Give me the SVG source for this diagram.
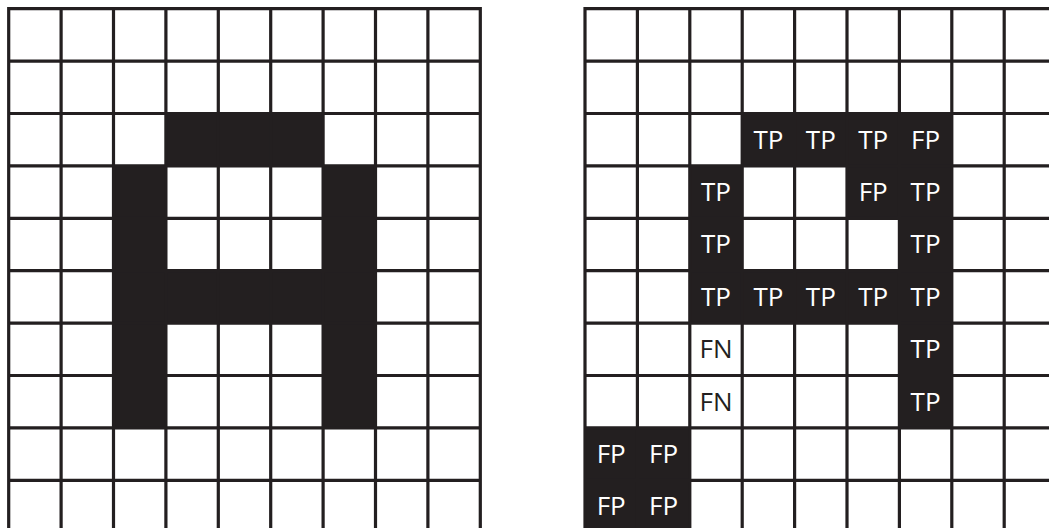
<svg xmlns="http://www.w3.org/2000/svg" width="1049" height="528" viewBox="0 0 1049 528">
<style>
.fill{fill:#231f20}
.grid{stroke:#231f20;stroke-width:3.2;fill:none;stroke-linecap:square}
.lbl{font-family:"Open Sans","Liberation Sans",sans-serif;font-size:26px;text-anchor:middle}
.on{fill:#ffffff}
.off{fill:#231f20}
</style>
<rect width="1049" height="528" fill="#ffffff"/>
<g id="left-grid">
<g id="left-fills">
<rect class="fill" x="165.9" y="113.5" width="157.2" height="52.4"/>
<rect class="fill" x="113.5" y="165.9" width="52.4" height="262"/>
<rect class="fill" x="323.1" y="165.9" width="52.4" height="262"/>
<rect class="fill" x="113.5" y="270.7" width="262" height="52.4"/>
</g>
<path class="grid" d="M8.7 8.7V532.7M61.1 8.7V532.7M113.5 8.7V532.7M165.9 8.7V532.7M218.3 8.7V532.7M270.7 8.7V532.7M323.1 8.7V532.7M375.5 8.7V532.7M427.9 8.7V532.7M480.3 8.7V532.7M8.7 8.7H480.3M8.7 61.1H480.3M8.7 113.5H480.3M8.7 165.9H480.3M8.7 218.3H480.3M8.7 270.7H480.3M8.7 323.1H480.3M8.7 375.5H480.3M8.7 427.9H480.3M8.7 480.3H480.3M8.7 532.7H480.3"/>
</g>
<g id="right-grid">
<g id="right-fills">
<rect class="fill" x="742.2" y="113.5" width="209.6" height="52.4"/>
<rect class="fill" x="689.8" y="165.9" width="52.4" height="157.2"/>
<rect class="fill" x="847" y="165.9" width="104.8" height="52.4"/>
<rect class="fill" x="899.4" y="165.9" width="52.4" height="262"/>
<rect class="fill" x="689.8" y="270.7" width="262" height="52.4"/>
<rect class="fill" x="585" y="427.9" width="104.8" height="104.8"/>
</g>
<path class="grid" d="M585 8.7V532.7M637.4 8.7V532.7M689.8 8.7V532.7M742.2 8.7V532.7M794.6 8.7V532.7M847 8.7V532.7M899.4 8.7V532.7M951.8 8.7V532.7M1004.2 8.7V532.7M1056.6 8.7V532.7M585 8.7H1056.6M585 61.1H1056.6M585 113.5H1056.6M585 165.9H1056.6M585 218.3H1056.6M585 270.7H1056.6M585 323.1H1056.6M585 375.5H1056.6M585 427.9H1056.6M585 480.3H1056.6M585 532.7H1056.6"/>
<g id="labels" class="lbl">
<text class="on" x="768.4" y="148.5">TP</text>
<text class="on" x="820.8" y="148.5">TP</text>
<text class="on" x="873.2" y="148.5">TP</text>
<text class="on" x="925.6" y="148.5">FP</text>
<text class="on" x="716" y="200.9">TP</text>
<text class="on" x="873.2" y="200.9">FP</text>
<text class="on" x="925.6" y="200.9">TP</text>
<text class="on" x="716" y="253.3">TP</text>
<text class="on" x="925.6" y="253.3">TP</text>
<text class="on" x="716" y="305.7">TP</text>
<text class="on" x="768.4" y="305.7">TP</text>
<text class="on" x="820.8" y="305.7">TP</text>
<text class="on" x="873.2" y="305.7">TP</text>
<text class="on" x="925.6" y="305.7">TP</text>
<text class="off" x="716" y="358.1">FN</text>
<text class="on" x="925.6" y="358.1">TP</text>
<text class="off" x="716" y="410.5">FN</text>
<text class="on" x="925.6" y="410.5">TP</text>
<text class="on" x="611.2" y="462.9">FP</text>
<text class="on" x="663.6" y="462.9">FP</text>
<text class="on" x="611.2" y="515.3">FP</text>
<text class="on" x="663.6" y="515.3">FP</text>
</g>
</g>
</svg>
